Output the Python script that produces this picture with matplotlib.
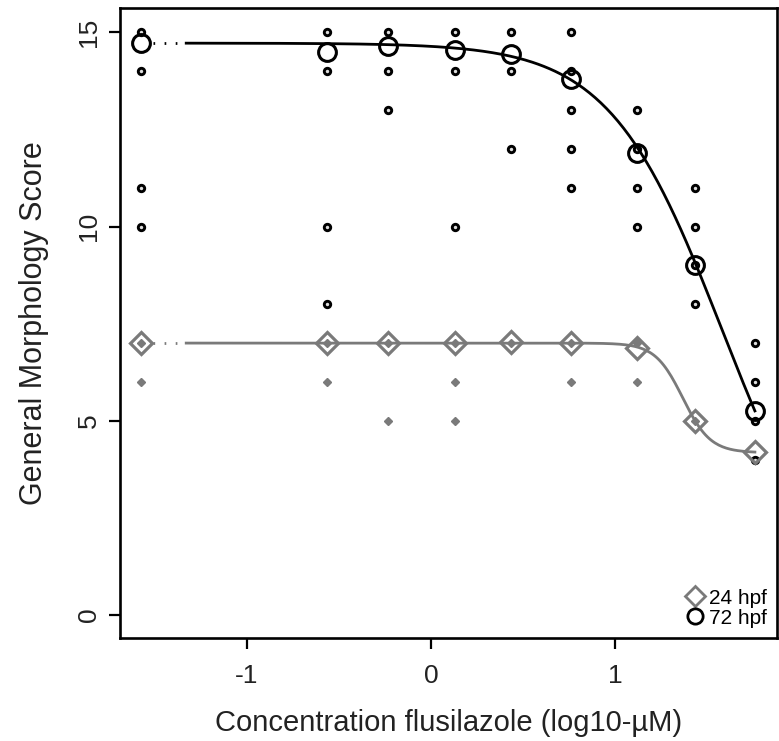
import matplotlib
matplotlib.use("Agg")
import matplotlib.pyplot as plt
import numpy as np
from matplotlib.lines import Line2D

plt.rcParams['font.family'] = ['Liberation Sans', 'DejaVu Sans']
plt.rcParams['axes.unicode_minus'] = False

# log10 concentration of each group (first one is the control, drawn at the left)
log_conc = [-1.576, -0.565, -0.234, 0.13, 0.435, 0.76, 1.12, 1.435, 1.76]

# individual scores seen at each concentration
scores_72 = [[15, 14, 11, 10], [15, 14, 10, 8], [15, 14, 13], [15, 14, 10],
             [15, 14, 12], [15, 14, 13, 12, 11], [13, 12, 11, 10],
             [11, 10, 9, 8], [7, 6, 5, 4]]
scores_24 = [[7, 6], [7, 6], [7, 5], [7, 6, 5], [7], [7, 6], [7, 6], [5], [4]]

# group means
mean_72 = [14.72, 14.5, 14.65, 14.55, 14.45, 13.8, 11.88, 9.0, 5.25]
mean_24 = [7.0, 7.0, 7.0, 7.0, 7.02, 7.0, 6.88, 5.0, 4.2]

# fitted log-logistic parameters (top, bottom, log EC50, hill)
fit_72 = (14.72, 0.0, 1.58, 1.42)
fit_24 = (7.0, 4.18, 1.368, 5.77)

gray = "#7a7a7a"

fig = plt.figure(figsize=(7.79, 7.41), dpi=100)
ax = fig.add_axes([0.154, 0.139, 0.8434, 0.850])


def curve(p, x):
    top, bottom, c, h = p
    return bottom + (top - bottom) / (1 + 10 ** (h * (x - c)))


# individual observations
for x, s in zip(log_conc, scores_24):
    ax.plot([x] * len(s), s, linestyle='none', marker='D', ms=4.2,
            color=gray, mec=gray)
for x, s in zip(log_conc, scores_72):
    ax.plot([x] * len(s), s, linestyle='none', marker='o', ms=4.6,
            mfc='#dddddd', mec='black', mew=2.1)

# fitted curves with a dotted break to the control
x_break = -1.33
xs = np.linspace(x_break, log_conc[-1], 300)
for p, col in [(fit_24, gray), (fit_72, 'black')]:
    ax.plot(xs, curve(p, xs), color=col, lw=2)
    ax.plot([log_conc[0] + 0.065, x_break], [p[0], p[0]], color=col, lw=2,
            linestyle=(0, (0.6, 3.4)))

# group means
ax.plot(log_conc, mean_24, linestyle='none', marker='D', ms=11,
        mfc='none', mec=gray, mew=2.3)
ax.plot(log_conc, mean_72, linestyle='none', marker='o', ms=12.8,
        mfc='none', mec='black', mew=2.2)

ax.set_xlim(-1.69, 1.88)
ax.set_ylim(-0.59, 15.62)
ax.set_xticks([-1, 0, 1])
ax.set_yticks([0, 5, 10, 15])
ax.set_yticklabels(['0', '5', '10', '15'], rotation=90, va='center')
ax.tick_params(direction='out', length=8, width=1.6, labelsize=19,
               colors='black', labelcolor='#222222')
ax.tick_params(axis='x', pad=11)
ax.tick_params(axis='y', pad=6)
for sp in ax.spines.values():
    sp.set_linewidth(1.9)

ax.set_xlabel('Concentration flusilazole (log10-µM)', fontsize=21, labelpad=15,
              color='#222222')
ax.set_ylabel('General Morphology Score', fontsize=22, labelpad=20,
              color='#222222')

handles = [Line2D([], [], linestyle='none', marker='D', ms=10, mfc='none',
                  mec=gray, mew=2),
           Line2D([], [], linestyle='none', marker='o', ms=11, mfc='none',
                  mec='black', mew=2)]
ax.legend(handles, ['24 hpf', '72 hpf'], loc='lower right', frameon=False,
          fontsize=15, handletextpad=0.15, handlelength=1.0,
          labelspacing=0.05, borderaxespad=0.1)

fig.savefig('out.png', dpi=100)
